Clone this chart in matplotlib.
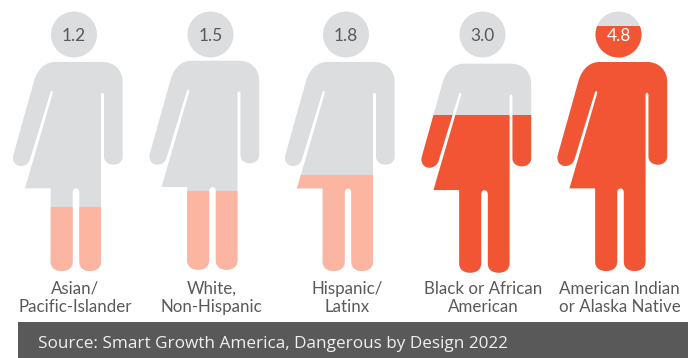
import numpy as np
import matplotlib
matplotlib.use("Agg")
import matplotlib.pyplot as plt
from matplotlib.path import Path
from matplotlib.patches import PathPatch, Rectangle
from matplotlib.transforms import Affine2D

GREY = "#DBDDDE"
RED = "#F15533"
PEACH = "#FBB5A0"

groups = ["Asian/\nPacific-Islander", "White,\nNon-Hispanic", "Hispanic/\nLatinx",
          "Black or African\nAmerican", "American Indian\nor Alaska Native"]
rates = ["1.2", "1.5", "1.8", "3.0", "4.8"]
# how high the colour reaches on each figure, px above the feet
fill_heights = [64, 80, 96, 156, 245]
fill_colors = [PEACH, PEACH, PEACH, RED, RED]

head_x = [74, 210.5, 346, 482.5, 618.5]
body_dy = [0, -1.3, 0, 1.7, 0]
feet_y = 271

# outline (3x zoom px, head centre at x=222)
M, L, C = Path.MOVETO, Path.LINETO, Path.CURVE4
outline = [
    (M, (165, 186)),
    (C, (135, 186)), (C, (113, 208)), (C, (103, 240)),
    (L, (40, 465)),
    (C, (35, 485)), (C, (48, 498)), (C, (62, 498)),
    (C, (76, 498)), (C, (86, 490)), (C, (90, 478)),
    (L, (151, 278)),
    (C, (153, 271)), (C, (160, 272)), (C, (158, 280)),
    (L, (75, 565)),
    (L, (152, 565)),
    (L, (152, 785)),
    (C, (152, 803)), (C, (165, 813)), (C, (185, 813)),
    (C, (205, 813)), (C, (218, 803)), (C, (218, 785)),
    (L, (218, 578)),
    (C, (218, 561)), (C, (238, 561)), (C, (238, 578)),
    (L, (238, 785)),
    (C, (238, 803)), (C, (250, 813)), (C, (270, 813)),
    (C, (290, 813)), (C, (303, 803)), (C, (303, 785)),
    (L, (303, 285)),
    (C, (303, 276)), (C, (312, 276)), (C, (312, 285)),
    (L, (312, 470)),
    (C, (312, 485)), (C, (325, 494)), (C, (340, 494)),
    (C, (355, 494)), (C, (368, 485)), (C, (368, 470)),
    (L, (368, 245)),
    (C, (368, 210)), (C, (342, 186)), (C, (308, 186)),
    (L, (165, 186)),
]
codes = [c for c, _ in outline]
verts = np.array([p for _, p in outline], dtype=float)
body = Path((verts - [222, 0]) / 3, codes)
head = Path.unit_circle().transformed(Affine2D().scale(23).translate(0, 34.5))

fig = plt.figure(figsize=(6.88, 3.58), dpi=100)
ax = fig.add_axes([0, 0, 1, 1])
ax.set_xlim(0, 688)
ax.set_ylim(358, 0)
ax.axis("off")

for i, name in enumerate(groups):
    moved = body.transformed(Affine2D().translate(head_x[i], body_dy[i]))
    person = Path.make_compound_path(moved, head.transformed(Affine2D().translate(head_x[i], 0)))
    patch = PathPatch(person, fc=GREY, ec="none", transform=ax.transData)
    ax.add_patch(patch)
    # bar starts a little under the feet so the rounded toes get covered
    bars = ax.bar(head_x[i], -(fill_heights[i] + 5 + body_dy[i]), width=170, bottom=feet_y + 5 + body_dy[i],
                  color=fill_colors[i], lw=0)
    bars[0].set_clip_path(patch)
    ax.text(head_x[i], 36, rates[i], ha="center", va="center", family="Lato", fontsize=12.5,
            color="white" if rates[i] == "4.8" else "#58595B")
    ax.text(head_x[i] + 1, 298, name, ha="center", va="center", family="Lato", fontsize=12.2,
            color="#58595B", linespacing=1.21)

ax.add_patch(Rectangle((18, 322), 670, 36, fc="#595959", ec="none"))
ax.text(38, 344, "Source: Smart Growth America, Dangerous by Design 2022", ha="left", va="center",
        family="Open Sans", fontsize=12.3, color="#F0F0F0")

fig.savefig("out.png", dpi=100)
